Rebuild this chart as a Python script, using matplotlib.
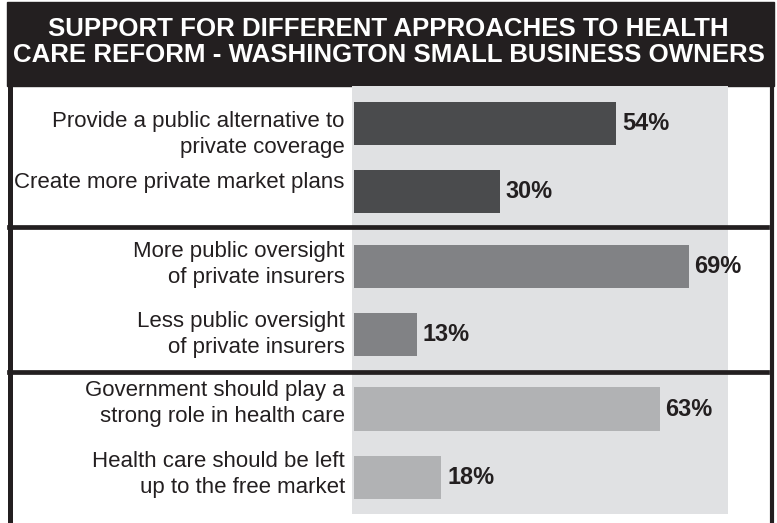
import matplotlib
matplotlib.use('Agg')
import matplotlib.pyplot as plt
import matplotlib.transforms as mtransforms
from matplotlib.patches import Rectangle
from matplotlib.lines import Line2D

# data
labels = ['Provide a public alternative to\nprivate coverage',
          'Create more private market plans',
          'More public oversight\nof private insurers',
          'Less public oversight\nof private insurers',
          'Government should play a\nstrong role in health care',
          'Health care should be left\nup to the free market']
values = [54, 30, 69, 13, 63, 18]
groups = [0, 0, 1, 1, 2, 2]
title_lines = ['SUPPORT FOR DIFFERENT APPROACHES TO HEALTH',
               'CARE REFORM - WASHINGTON SMALL BUSINESS OWNERS']

group_colors = ['#4a4b4d', '#818285', '#b1b2b4']
panel_color = '#e0e1e3'
ink = '#231f20'
plt.rcParams['font.family'] = ['Liberation Sans', 'DejaVu Sans']

# slot positions: one unit per bar, a bit extra between groups
group_gap = 0.09
pos = [i + g * group_gap for i, g in enumerate(groups)]
# small nudges of the label blocks (first group labels sit off-centre)
label_nudge = [0.16, -0.14, -0.03, 0.0, -0.08, -0.04]

W, H = 777, 523
fig = plt.figure(figsize=(W / 100, H / 100), dpi=100)
renderer = fig.canvas.get_renderer()


def fit_width(texts, target_px):
    # scale font size of a set of texts so the first one is target_px wide
    w = texts[0].get_window_extent(renderer).width
    size = texts[0].get_fontsize() * target_px / w
    for t in texts:
        t.set_fontsize(size)


# background axes in pixel units for frame / title
bg = fig.add_axes([0, 0, 1, 1])
bg.set_xlim(0, W)
bg.set_ylim(H, 0)
bg.axis('off')

bg.add_patch(Rectangle((7, 2), 767, 84, color=ink, zorder=1))
bg.plot([9.5, 9.5], [86, H], color=ink, lw=3.6, solid_capstyle='butt')
bg.plot([771.5, 771.5], [86, H], color=ink, lw=3.0, solid_capstyle='butt')
t1 = bg.text(W / 2, 29, title_lines[0], color='white', fontsize=20, fontweight='bold',
             ha='center', va='center')
t2 = bg.text(W / 2, 55, title_lines[1], color='white', fontsize=20, fontweight='bold',
             ha='center', va='center')
fit_width([t2, t1], 752)

# chart panel
px0, px1, py0, py1 = 352, 728, 86, 514
ax = fig.add_axes([px0 / W, 1 - py1 / H, (px1 - px0) / W, (py1 - py0) / H])
ax.set_facecolor(panel_color)
colors = [group_colors[g] for g in groups]
ax.barh(pos, values, height=0.63, color=colors, zorder=2)
ax.set_xlim(-0.41, 77.1)
ax.set_ylim(5.717, -0.549)
ax.set_xticks([])
ax.set_yticks([])
for s in ax.spines.values():
    s.set_visible(False)

pct_texts, lab_texts = [], []
for p, v, lab, nd in zip(pos, values, labels, label_nudge):
    pct_texts.append(ax.text(v + 1.2, p, f'{v}%', fontsize=17, fontweight='bold',
                             color=ink, ha='left', va='center'))
    lab_texts.append(ax.text(-1.9, p + nd, lab, fontsize=17, color=ink, ha='right',
                             va='center', linespacing=1.3, clip_on=False))
fit_width(pct_texts, 47)
fit_width([lab_texts[2]] + lab_texts, 212)

# separators between groups, spanning the whole frame
trans = mtransforms.blended_transform_factory(bg.transData, ax.transData)
for g in range(1, max(groups) + 1):
    last = max(p for p, gg in zip(pos, groups) if gg == g - 1)
    first = min(p for p, gg in zip(pos, groups) if gg == g)
    y = (last + first) / 2 - (0.035 if g == 1 else 0)
    fig.add_artist(Line2D([9, 767], [y, y], transform=trans, color=ink, lw=3.4))

fig.savefig('out.png', dpi=100)
